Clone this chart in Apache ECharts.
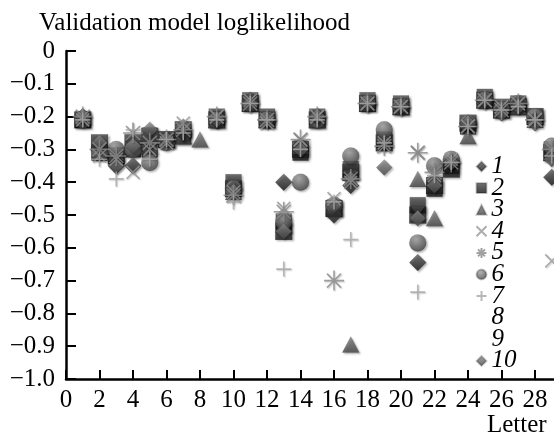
<!DOCTYPE html>
<html>
<head>
<meta charset="utf-8">
<script src="https://cdn.jsdelivr.net/npm/echarts@6/dist/echarts.min.js"></script>
<style>
html,body{margin:0;padding:0;background:#fff;}
#chart{width:554px;height:439px;}
</style>
</head>
<body>
<div id="chart"></div>
<script>
var letters = [1,2,3,4,5,6,7,8,9,10,11,12,13,14,15,16,17,18,19,20,21,22,23,24,25,26,27,28,29];
var yTicks = [0,-0.1,-0.2,-0.3,-0.4,-0.5,-0.6,-0.7,-0.8,-0.9,-1.0];
var xTicks = [0,2,4,6,8,10,12,14,16,18,20,22,24,26,28];
var seriesNames = ['1','2','3','4','5','6','7','8','9','10'];

var s1  = [-0.20,-0.29,-0.35,-0.35,-0.28,-0.27,-0.25,null,-0.21,-0.42,-0.15,-0.21,-0.40,-0.29,-0.20,-0.50,-0.41,-0.16,-0.28,-0.17,-0.645,-0.40,-0.34,-0.22,-0.15,-0.18,-0.16,-0.21,-0.385];
var s2  = [-0.21,-0.31,-0.32,-0.30,-0.30,-0.27,-0.26,null,-0.20,-0.40,-0.15,-0.20,-0.52,-0.31,-0.20,-0.48,-0.36,-0.15,-0.27,-0.16,-0.47,-0.42,-0.35,-0.23,-0.14,-0.17,-0.16,-0.20,-0.30];
var s3  = [-0.20,-0.30,-0.31,-0.29,-0.29,-0.27,-0.26,-0.27,-0.21,-0.43,-0.16,-0.21,-0.53,-0.29,-0.21,-0.47,-0.895,-0.16,-0.27,-0.17,-0.39,-0.51,-0.33,-0.26,-0.15,-0.18,-0.17,-0.21,-0.31];
var s4  = [-0.21,-0.32,-0.33,-0.37,-0.30,-0.28,-0.22,null,-0.20,-0.43,-0.15,-0.22,-0.48,-0.27,-0.20,-0.45,-0.40,-0.16,-0.28,-0.17,-0.31,-0.38,-0.33,-0.23,-0.15,-0.17,-0.16,-0.21,-0.64];
var s5  = [-0.20,-0.30,-0.32,-0.25,-0.28,-0.27,-0.24,null,-0.20,-0.44,-0.16,-0.21,-0.49,-0.27,-0.20,-0.70,-0.39,-0.16,-0.29,-0.17,-0.31,-0.37,-0.34,-0.23,-0.15,-0.18,-0.16,-0.21,-0.30];
var s6  = [-0.21,-0.31,-0.30,-0.30,-0.34,-0.28,-0.25,null,-0.21,-0.42,-0.16,-0.21,-0.52,-0.40,-0.21,-0.47,-0.32,-0.16,-0.24,-0.17,-0.585,-0.35,-0.33,-0.22,-0.15,-0.18,-0.16,-0.20,-0.29];
var s7  = [-0.21,-0.33,-0.39,-0.24,-0.33,-0.27,-0.25,null,-0.21,-0.46,-0.16,-0.21,-0.665,-0.30,-0.21,-0.46,-0.575,-0.16,-0.28,-0.17,-0.735,-0.38,-0.34,-0.23,-0.15,-0.18,-0.17,-0.21,-0.32];
var s8  = [-0.20,-0.29,-0.31,-0.29,-0.25,-0.27,-0.24,null,-0.20,-0.41,-0.15,-0.21,-0.54,-0.29,-0.20,-0.47,-0.38,-0.16,-0.27,-0.17,-0.49,-0.40,-0.35,-0.24,-0.15,-0.18,-0.16,-0.21,-0.30];
var s9  = [-0.21,-0.28,-0.32,-0.28,-0.26,-0.27,-0.24,null,-0.21,-0.42,-0.16,-0.21,-0.55,-0.30,-0.21,-0.48,-0.37,-0.16,-0.28,-0.17,-0.50,-0.41,-0.36,-0.22,-0.15,-0.18,-0.17,-0.20,-0.31];
var s10 = [-0.20,-0.28,-0.35,-0.29,-0.24,-0.27,-0.23,null,-0.21,-0.43,-0.16,-0.21,-0.55,-0.30,-0.20,-0.47,-0.39,-0.16,-0.355,-0.17,-0.51,-0.41,-0.34,-0.22,-0.15,-0.19,-0.17,-0.22,-0.33];

var allValues = [s1,s2,s3,s4,s5,s6,s7,s8,s9,s10];

function pairs(vals){
  var out = [];
  for (var i = 0; i < letters.length; i++) {
    if (vals[i] !== null && vals[i] !== undefined) out.push([letters[i], vals[i]]);
  }
  return out;
}
function lin(c1, c2){
  return {type:'linear', x:0, y:0, x2:0, y2:1, colorStops:[{offset:0,color:c1},{offset:1,color:c2}]};
}
function rad(c1, c2){
  return {type:'radial', x:0.4, y:0.3, r:0.7, colorStops:[{offset:0,color:c1},{offset:1,color:c2}]};
}
var SHADOW = {shadowBlur:2, shadowOffsetX:1.5, shadowOffsetY:1.5, shadowColor:'rgba(0,0,0,0.35)'};
function filled(color, extra){
  var o = {color: color, borderColor:'rgba(0,0,0,0.25)', borderWidth:0.5};
  for (var k in SHADOW) o[k] = SHADOW[k];
  if (extra) for (var k2 in extra) o[k2] = extra[k2];
  return o;
}
function stroked(color){
  return {color:'none', borderColor: color, borderWidth:1.6, shadowBlur:1.5, shadowOffsetX:1, shadowOffsetY:1, shadowColor:'rgba(0,0,0,0.25)'};
}
var PLUS = 'path://M0,5L10,5M5,0L5,10';
var CROSS = 'path://M0,0L10,10M10,0L0,10';
var STAR = 'path://M5,0L5,10M0,5L10,5M1.5,1.5L8.5,8.5M8.5,1.5L1.5,8.5';
var TRIDOWN = 'path://M0,0L10,0L5,9Z';

var styles = [
  {symbol:'diamond', size:17, item: filled(lin('#5e5e5e','#111111')), z:6},
  {symbol:'rect', size:16, item: filled(lin('#505050','#0e0e0e')), z:2},
  {symbol:'triangle', size:[17,16], item: filled(lin('#808080','#404040')), z:4},
  {symbol:CROSS, size:13, item: stroked('#9a9a9a'), z:8},
  {symbol:STAR, size:20, item: stroked('#8a8a8a'), z:8},
  {symbol:'circle', size:17, item: filled(rad('#a0a0a0','#404040')), z:5},
  {symbol:PLUS, size:15, item: stroked('#a6a6a6'), z:8},
  {symbol:TRIDOWN, size:[14,11], item: filled(lin('#505050','#1e1e1e')), z:3},
  {symbol:'rect', size:17, item: filled(lin('#444444','#161616')), z:1},
  {symbol:'diamond', size:16, item: filled(lin('#8e8e8e','#444444')), z:7}
];

var series = [];
for (var i = 0; i < 10; i++) {
  var st = styles[i];
  series.push({
    name: seriesNames[i],
    type: 'scatter',
    data: pairs(allValues[i]),
    symbol: st.symbol,
    symbolSize: st.size,
    itemStyle: st.item,
    z: st.z,
    animation: false,
    emphasis: {disabled: true}
  });
}

var legendData = seriesNames.map(function(n, i){
  var d = {name: n};
  if (i === 7 || i === 8) {
    d.itemStyle = {color:'rgba(0,0,0,0)', borderColor:'rgba(0,0,0,0)', shadowColor:'rgba(0,0,0,0)', opacity:0};
  }
  return d;
});

var SERIF = '"Liberation Serif", "Times New Roman", serif';
var chart = echarts.init(document.getElementById('chart'), null, {renderer:'canvas'});
chart.setOption({
  backgroundColor:'#fff',
  animation:false,
  title: [
    {text:'Validation model loglikelihood', left:39, top:11, padding:0,
     textStyle:{fontFamily:SERIF, fontSize:25, fontWeight:'normal', color:'#000'}},
    {text:'Letter', left:487, top:413, padding:0,
     textStyle:{fontFamily:SERIF, fontSize:25, fontWeight:'normal', color:'#000'}}
  ],
  legend: {
    orient:'vertical', left:474, top:154, padding:0,
    itemWidth:10, itemHeight:10, itemGap:-3.4,
    data: legendData,
    selectedMode:false,
    textStyle:{fontFamily:SERIF, fontSize:25, fontStyle:'italic', color:'#000'}
  },
  grid: {left:66, top:51, width:502.5, height:328, outerBoundsMode:'none', containLabel:false},
  xAxis: {
    type:'value', min:0, max:30, interval:2,
    axisLine:{show:true, onZero:false, lineStyle:{color:'#000', width:2.5}},
    axisTick:{show:true, inside:true, length:9, lineStyle:{color:'#000', width:2}},
    splitLine:{show:false},
    axisLabel:{show:true, margin:9, fontFamily:SERIF, fontSize:25, color:'#000',
      formatter:function(v){ return xTicks.indexOf(v) >= 0 ? String(v) : ''; }}
  },
  yAxis: {
    type:'value', min:-1, max:0, interval:0.1,
    axisLine:{show:true, onZero:false, lineStyle:{color:'#000', width:2.5}},
    axisTick:{show:true, inside:true, length:10, lineStyle:{color:'#000', width:2}},
    splitLine:{show:false},
    axisLabel:{show:true, margin:11, fontFamily:SERIF, fontSize:25, color:'#000',
      formatter:function(v){
        var r = Math.round(v*10)/10;
        var found = yTicks.some(function(t){ return Math.abs(t - r) < 1e-9; });
        if (!found) return '';
        return r === 0 ? '0' : '\u2212' + Math.abs(r).toFixed(1);
      }}
  },
  series: series
});
</script>
</body>
</html>
